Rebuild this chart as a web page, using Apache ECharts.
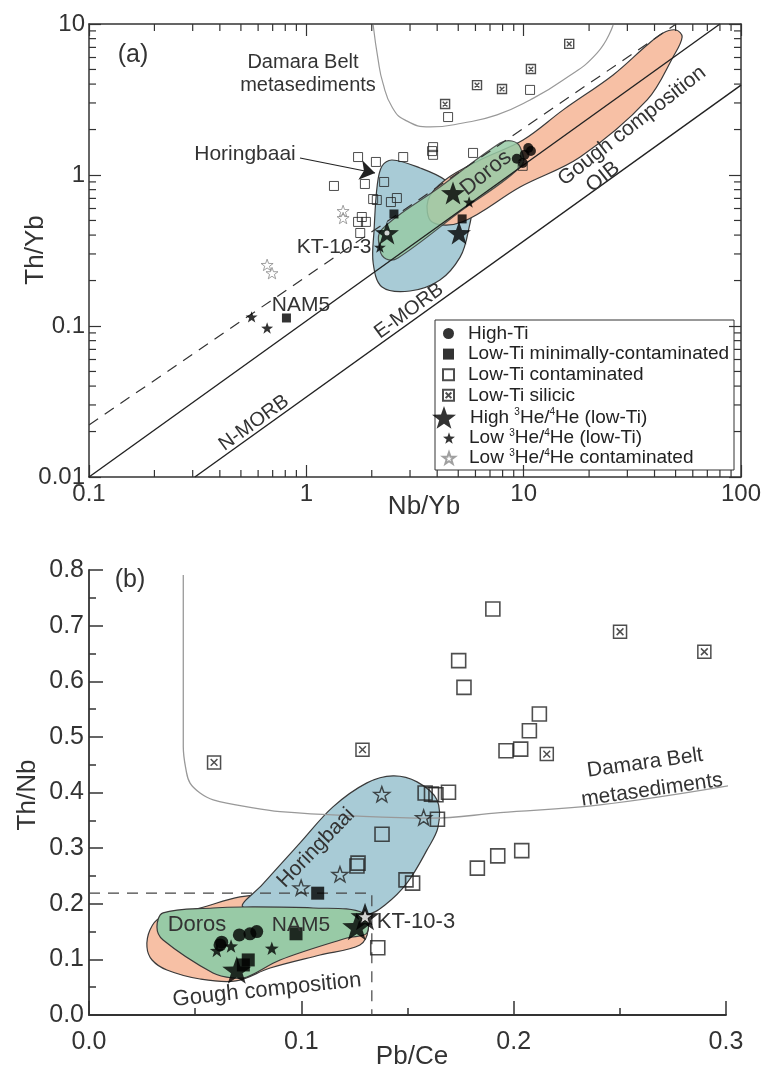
<!DOCTYPE html>
<html><head><meta charset="utf-8">
<script src="https://cdn.jsdelivr.net/npm/echarts@6/dist/echarts.min.js"></script>
<style>html,body{margin:0;padding:0;background:#fff}#c{width:774px;height:1070px}</style>
</head><body><div id="c"></div>
<script>
// ===== Panel (a): Th/Yb vs Nb/Yb =====
const aHighTi = [[10.5,1.51],[10.1,1.36],[9.3,1.28],[9.9,1.20],[10.8,1.44]];
const aLowTiMin = [[0.81,0.113],[2.53,0.552],[5.21,0.512]];
const aLowTiCont = [[1.73,1.315],[2.09,1.22],[2.79,1.315],[1.34,0.846],[1.86,0.872],[2.28,0.899],[2.03,0.693],[2.11,0.683],[2.45,0.662],[2.61,0.704],[1.80,0.527],[1.73,0.489],[1.88,0.489],[1.77,0.413],[3.83,1.53],[3.79,1.44],[3.83,1.36],[5.85,1.40],[4.49,2.42],[10.7,3.66],[9.9,1.15]];
const aSilicic = [[16.2,7.38],[10.8,5.03],[6.1,3.94],[7.95,3.71],[4.35,2.95]];
const aHighHe = [[2.35,0.413],[4.73,0.76],[5.04,0.413]];
const aLowHe = [[0.56,0.115],[0.66,0.097],[5.61,0.662],[2.18,0.333]];
const aLowHeCont = [[0.66,0.254],[0.695,0.224],[1.476,0.578],[1.476,0.519]];
const aKT = [[2.35,0.413]];

const aFieldHoringbaai = [[2.23,1.147],[2.48,1.257],[3.34,1.113],[4.35,0.927],[5.67,0.633],[5.55,0.419],[5.10,0.286],[4.12,0.2017],[3.00,0.1705],[2.23,0.1813],[2.03,0.2614],[2.05,0.432],[2.12,0.859]];
const aFieldGough = [[3.79,0.488],[5.21,0.488],[9.63,0.833],[18.2,1.316],[37.0,3.14],[48.7,6.05],[53.6,8.20],[50.2,9.13],[43.8,8.72],[37.0,7.26],[25.8,4.60],[15.2,2.70],[9.94,1.705],[6.30,1.257],[4.35,0.927],[3.63,0.683]];
const aFieldDoros = [[2.21,0.432],[4.15,0.839],[7.79,1.629],[8.84,1.68],[9.63,1.532],[9.83,1.165],[5.10,0.573],[2.64,0.282],[2.33,0.278],[2.18,0.319]];

const aDashed = [[0.1,0.0221],[50.3,10]];
const aLine1 = [[0.1,0.01],[80,10]];
const aLine2 = [[0.307,0.01],[100,3.94]];
const aDamara = [[2.03,9.85],[2.14,5.78],[2.25,4.07],[2.48,2.82],[2.85,2.31],[3.71,2.08],[5.26,2.21],[7.54,2.50],[10.7,3.14],[15.2,4.26],[21.8,6.43],[25.8,9.85]];
const aArrow = [[0.935,1.296],[2.07,1.031]];

const logMinorX = [0.2,0.3,0.4,0.5,0.6,0.7,0.8,0.9,2,3,4,5,6,7,8,9,20,30,40,50,60,70,80,90];
const logMinorY = [0.02,0.03,0.04,0.05,0.06,0.07,0.08,0.09,0.2,0.3,0.4,0.5,0.6,0.7,0.8,0.9,2,3,4,5,6,7,8,9];

// ===== Panel (b): Th/Nb vs Pb/Ce =====
const bHighTi = [[0.0625,0.131],[0.0617,0.126],[0.0708,0.144],[0.0758,0.146],[0.0790,0.150]];
const bLowTiMin = [[0.1077,0.219],[0.0975,0.146],[0.0750,0.099],[0.0727,0.090]];
const bLowTiCont = [[0.1902,0.730],[0.1741,0.637],[0.1766,0.589],[0.2121,0.541],[0.2074,0.511],[0.1964,0.475],[0.2033,0.478],[0.1583,0.399],[0.1613,0.397],[0.1634,0.396],[0.1693,0.4005],[0.1641,0.352],[0.1829,0.264],[0.1925,0.286],[0.2038,0.2955],[0.1493,0.243],[0.1524,0.237],[0.1380,0.325],[0.1267,0.273],[0.1262,0.268],[0.1360,0.121]];
const bSilicic = [[0.0589,0.454],[0.1288,0.477],[0.2156,0.469],[0.2501,0.689],[0.2898,0.653]];
const bHighHe = [[0.130,0.177],[0.1261,0.159],[0.0696,0.081]];
const bLowHe = [[0.0602,0.116],[0.0669,0.124],[0.0861,0.120]];
const bLowHeCont = [[0.1379,0.397],[0.1576,0.355],[0.1182,0.253],[0.0999,0.229]];
const bKT = [[0.130,0.177]];

const bFieldGough = [[0.0273,0.1223],[0.0287,0.1529],[0.0334,0.1745],[0.0523,0.1924],[0.0711,0.2122],[0.0853,0.2158],[0.1088,0.2068],[0.1286,0.1853],[0.1314,0.1529],[0.1276,0.1259],[0.1088,0.1079],[0.0853,0.0845],[0.0692,0.0612],[0.0523,0.0647],[0.0367,0.0809],[0.0297,0.0989]];
const bFieldDoros = [[0.0320,0.1583],[0.0349,0.1835],[0.0584,0.1924],[0.0725,0.1942],[0.1055,0.1924],[0.1291,0.1835],[0.1309,0.1475],[0.1215,0.1385],[0.0900,0.0989],[0.0744,0.0683],[0.0678,0.0665],[0.0584,0.0755],[0.0349,0.1349]];
const bFieldHoringbaai = [[0.0725,0.1942],[0.0815,0.2338],[0.0994,0.3094],[0.1149,0.3741],[0.1309,0.4173],[0.1432,0.4299],[0.1545,0.4191],[0.1639,0.3867],[0.1644,0.3381],[0.1592,0.2968],[0.1498,0.2374],[0.1394,0.1978],[0.1300,0.1799],[0.0994,0.1888]];
const bDashed = [[0,0.219],[0.1332,0.219],[0.1332,0]];
const bDamara = [[0.0444,0.791],[0.0444,0.4826],[0.0457,0.4406],[0.0476,0.4167],[0.0523,0.399],[0.0585,0.3867],[0.0773,0.3723],[0.090,0.3656],[0.1214,0.3584],[0.1606,0.3538],[0.1936,0.3638],[0.2407,0.3777],[0.301,0.4119]];

const FONT = '"Liberation Sans", Arial, sans-serif';
const STAR = 'path://M50,0L61.76,33.82L97.55,34.55L69.02,56.18L79.39,90.45L50,70L20.61,90.45L30.98,56.18L2.45,34.55L38.24,33.82Z';
const XBOX = 'path://M0,0L10,0L10,10L0,10Z M2.4,2.4L7.6,7.6 M7.6,2.4L2.4,7.6';
const N = {HT:'High-Ti', LM:'Low-Ti minimally-contaminated', LC:'Low-Ti contaminated', LS:'Low-Ti silicic', HH:'High 3He/4He (low-Ti)', LH:'Low 3He/4He (low-Ti)', LHC:'Low 3He/4He contaminated'};

const AX = '#333';
const BLUE = '#a8cbd6', GREEN = '#98caa6', PINK = '#f7c0a5';

function sc(name, data, ai, symbol, size, style, z){
  return {type:'scatter', name, data, xAxisIndex:ai, yAxisIndex:ai, symbol, symbolSize:size, symbolKeepAspect:true,
    itemStyle:style, z:z||5, silent:true, emphasis:{disabled:true}};
}
function poly(verts, ai, fill, opacity, z){
  return {type:'custom', xAxisIndex:ai, yAxisIndex:ai, data:verts, silent:true, z:z||1,
    renderItem:function(params, api){
      if(params.dataIndex!==0) return;
      const pts = verts.map(v=>api.coord(v));
      return {type:'polygon', shape:{points:pts, smooth:0.35}, style:{fill:fill, opacity:opacity, stroke:'#3a3a3a', lineWidth:1.2}};
    }};
}
function ln(data, ai, color, width, type, smooth, z){
  return {type:'line', data, xAxisIndex:ai, yAxisIndex:ai, showSymbol:false, symbol:'none', smooth:smooth||false, silent:true,
    lineStyle:{color, width, type:type||'solid'}, z:z||3, emphasis:{disabled:true}};
}
const minorTicks = {type:'custom', xAxisIndex:0, yAxisIndex:0, data:[[1,1]], silent:true, z:6,
  renderItem:function(params, api){
    if(params.dataIndex!==0) return;
    const ch=[]; const L=7; const st={stroke:AX, lineWidth:1.2};
    logMinorX.forEach(v=>{
      const b=api.coord([v,0.01]), t=api.coord([v,10]);
      ch.push({type:'line', shape:{x1:b[0],y1:b[1],x2:b[0],y2:b[1]-L}, style:st});
      ch.push({type:'line', shape:{x1:t[0],y1:t[1],x2:t[0],y2:t[1]+L}, style:st});
    });
    logMinorY.forEach(v=>{
      const l=api.coord([0.1,v]), r=api.coord([100,v]);
      ch.push({type:'line', shape:{x1:l[0],y1:l[1],x2:l[0]+L,y2:l[1]}, style:st});
      ch.push({type:'line', shape:{x1:r[0],y1:r[1],x2:r[0]-L,y2:r[1]}, style:st});
    });
    return {type:'group', children:ch};
  }};

function fmtLog(v){ return String(parseFloat(Number(v).toPrecision(2))); }
function legendFmt(name){
  return '{g|}{t|' + name.replace('3He/4He', '}{s|3}{t|He/}{s|4}{t|He') + '}';
}
const legendRich = {
  g:{width:9, height:20},
  t:{fontSize:19, lineHeight:20, color:'#222', fontFamily:FONT},
  s:{fontSize:10, lineHeight:10, verticalAlign:'top', color:'#222', fontFamily:FONT}
};
function lg(data, left, top, w, h, gap){
  return {data, left, top, orient:'vertical', itemWidth:w, itemHeight:h, itemGap:gap, padding:0, selectedMode:false,
    formatter:legendFmt, textStyle:{fontSize:19, color:'#222', fontFamily:FONT, rich:legendRich}};
}

function axLog(gi, pos, labels, isY){
  return {type:'log', logBase:10, gridIndex:gi, position:pos, min:isY?0.01:0.1, max:isY?10:100,
    axisLine:{show:true, lineStyle:{color:AX, width:1.5}},
    axisTick:{show:true, inside:true, length:12, lineStyle:{color:AX, width:1.2}},
    axisLabel:{show:labels, fontSize:24, color:'#333', fontFamily:FONT, margin:isY?4:5, formatter:fmtLog, showMinLabel:true, showMaxLabel:true},
    splitLine:{show:false}, minorTick:{show:false}};
}
function axVal(gi, max, isY){
  return {type:'value', gridIndex:gi, min:0, max:max, interval:0.1,
    axisLine:{show:true, onZero:false, lineStyle:{color:AX, width:1.8}},
    axisTick:{show:true, inside:true, length:14, lineStyle:{color:AX, width:1.5}},
    minorTick:{show:true, splitNumber:2, length:7, lineStyle:{color:AX, width:1.5}},
    axisLabel:{fontSize:25, color:'#333', fontFamily:FONT, margin:isY?5:15, formatter:v=>v.toFixed(1), showMinLabel:true, showMaxLabel:true},
    splitLine:{show:false}, minorSplitLine:{show:false}};
}

function txt(text, x, y, size, rotDeg, extra){
  return Object.assign({type:'text', x, y, rotation:(rotDeg||0)*Math.PI/180, z:20, silent:true,
    style:{text, x:0, y:0, fill:'#333', font:size+'px '+FONT, textAlign:'center', textVerticalAlign:'middle'}}, extra||{});
}

const blackStar = {color:'#000'};
const series = [
  poly(aFieldHoringbaai, 0, BLUE, 1, 1),
  poly(aFieldGough, 0, PINK, 1, 1),
  poly(aFieldDoros, 0, GREEN, 0.85, 1),
  ln(aDamara, 0, '#999', 1.2, 'solid', 0.5),
  ln(aDashed, 0, '#333', 1.2, [11,8]),
  ln(aLine1, 0, '#222', 1.4),
  ln(aLine2, 0, '#222', 1.4),
  {type:'lines', coordinateSystem:'cartesian2d', xAxisIndex:0, yAxisIndex:0, silent:true, z:4,
   symbol:['none','arrow'], symbolSize:[0,15], lineStyle:{color:'#222', width:1.2, opacity:1},
   data:[{coords:aArrow}]},
  minorTicks,
  sc(N.HT, aHighTi, 0, 'circle', 10, {color:'#000'}),
  sc(N.LM, aLowTiMin, 0, 'rect', 9, {color:'#000'}),
  sc(N.LC, aLowTiCont, 0, 'rect', 9, {color:'rgba(255,255,255,0)', borderColor:'#222', borderWidth:1}),
  sc(N.LS, aSilicic, 0, XBOX, 9, {color:'#fff', borderColor:'#222', borderWidth:1.4}),
  sc(N.HH, aHighHe, 0, STAR, 24, blackStar, 6),
  sc(N.LH, aLowHe, 0, STAR, 12, blackStar),
  sc(N.LHC, aLowHeCont, 0, STAR, 12, {color:'rgba(255,255,255,0)', borderColor:'#888', borderWidth:1}),
  sc('KT-a', aKT, 0, 'circle', 5, {color:'#fff'}, 7),
  poly(bFieldGough, 2, PINK, 1, 1),
  poly(bFieldHoringbaai, 2, BLUE, 1, 1),
  poly(bFieldDoros, 2, GREEN, 1, 1),
  ln(bDamara, 2, '#999', 1.3, 'solid', 0.4),
  ln(bDashed, 2, '#444', 1.2, [11,8]),
  sc(N.HT, bHighTi, 2, 'circle', 13, {color:'#000'}),
  sc(N.LM, bLowTiMin, 2, 'rect', 13, {color:'#000'}),
  sc(N.LC, bLowTiCont, 2, 'rect', 14, {color:'rgba(255,255,255,0)', borderColor:'#222', borderWidth:1.6}),
  sc(N.LS, bSilicic, 2, XBOX, 13, {color:'#fff', borderColor:'#222', borderWidth:1.5}),
  sc(N.HH, bHighHe, 2, STAR, 29, blackStar, 6),
  sc(N.LH, bLowHe, 2, STAR, 14, blackStar),
  sc(N.LHC, bLowHeCont, 2, STAR, 16, {color:'rgba(255,255,255,0)', borderColor:'#222', borderWidth:1.4}),
  sc('KT-b', bKT, 2, STAR, 15, {color:'#fff', borderColor:'#000', borderWidth:1}, 7)
];

const option = {
  animation:false, backgroundColor:'#fff', textStyle:{fontFamily:FONT},
  grid:[{left:89, top:24, width:652, height:453}, {left:89, top:570, width:637, height:445}],
  xAxis:[axLog(0,'bottom',true,false), axLog(0,'top',false,false), axVal(1,0.3,false)],
  yAxis:[axLog(0,'left',true,true), axLog(0,'right',false,true), axVal(1,0.8,true)],
  legend:[
    lg([N.HT, N.LM, N.LC, N.LS], 442, 324, 11, 11, 1.6),
    lg([N.HH], 432, 406, 24, 24, 0),
    lg([N.LH, N.LHC], 442, 428, 12, 12, 0.6)
  ],
  series,
  graphic:[
    {type:'rect', shape:{x:435, y:320, width:299, height:150}, style:{fill:'rgba(0,0,0,0)', stroke:'#333', lineWidth:1}, z:1, silent:true},
    txt('(a)', 133, 55, 25),
    txt('Damara Belt', 303, 62, 20),
    txt('metasediments', 308, 85, 20),
    txt('Horingbaai', 245, 154, 21),
    txt('KT-10-3', 334, 247, 21),
    txt('NAM5', 301, 305, 21),
    txt('N-MORB', 254, 423, 20, 36),
    txt('E-MORB', 409, 311, 20, 36),
    txt('Doros', 486, 173, 22, 39),
    txt('Gough composition', 632, 126, 21, 38),
    txt('OIB', 603, 177, 21, 38),
    txt('Th/Yb', 36, 250, 26, 90),
    txt('Nb/Yb', 424, 507, 26),
    txt('(b)', 130, 580, 25),
    txt('Horingbaai', 316, 848, 21, 46),
    txt('Doros', 197, 925, 22),
    txt('NAM5', 301, 925, 21),
    txt('KT-10-3', 416, 922, 22),
    txt('Gough composition', 267, 990, 22, 6),
    txt('Damara Belt', 645, 763, 21, 8),
    txt('metasediments', 652, 790, 21, 8),
    txt('Th/Nb', 28, 795, 26, 90),
    txt('Pb/Ce', 412, 1057, 26)
  ]
};
const chart = echarts.init(document.getElementById('c'), null, {renderer:'canvas'});
chart.setOption(option);
</script>
</body></html>
